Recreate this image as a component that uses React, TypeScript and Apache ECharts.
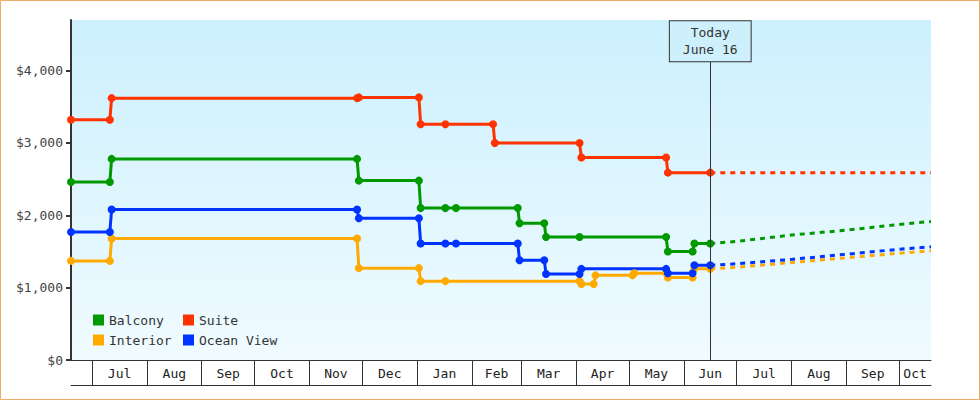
import React, { useEffect, useRef } from 'react';
import * as echarts from 'echarts';

const FONT = '"DejaVu Sans Mono", monospace';

const axisStart = '2022-06-19';
const axisEnd = '2023-10-19';
const today = '2023-06-16';
const todayLabel = 'Today\nJune 16';
const todayMarkerTop = 4130;

const monthStarts = [
  '2022-07-01', '2022-08-01', '2022-09-01', '2022-10-01', '2022-11-01', '2022-12-01',
  '2023-01-01', '2023-02-01', '2023-03-01', '2023-04-01', '2023-05-01', '2023-06-01',
  '2023-07-01', '2023-08-01', '2023-09-01', '2023-10-01',
];
const monthNames = [
  'Jul', 'Aug', 'Sep', 'Oct', 'Nov', 'Dec', 'Jan', 'Feb',
  'Mar', 'Apr', 'May', 'Jun', 'Jul', 'Aug', 'Sep', 'Oct',
];
const yTicks = [0, 1000, 2000, 3000, 4000];

const seriesNames = ['Balcony', 'Suite', 'Interior', 'Ocean View'];
const seriesColors = ['#009900', '#ff3300', '#ffaa00', '#0033ff'];

// observed prices (date, $)
const balcony: [string, number][] = [
  ['2022-06-19', 2460], ['2022-07-11', 2460], ['2022-07-12', 2780], ['2022-11-28', 2780],
  ['2022-11-29', 2480], ['2023-01-02', 2480], ['2023-01-03', 2100], ['2023-01-17', 2100],
  ['2023-01-23', 2100], ['2023-02-27', 2100], ['2023-02-28', 1890], ['2023-03-14', 1890],
  ['2023-03-15', 1700], ['2023-04-03', 1700], ['2023-05-22', 1700], ['2023-05-23', 1500],
  ['2023-06-06', 1500], ['2023-06-07', 1610], ['2023-06-16', 1610],
];
const suite: [string, number][] = [
  ['2022-06-19', 3320], ['2022-07-11', 3320], ['2022-07-12', 3620], ['2022-11-28', 3620],
  ['2022-11-29', 3630], ['2023-01-02', 3630], ['2023-01-03', 3260], ['2023-01-17', 3260],
  ['2023-02-13', 3260], ['2023-02-14', 3000], ['2023-04-03', 3000], ['2023-04-04', 2800],
  ['2023-05-22', 2800], ['2023-05-23', 2590], ['2023-06-16', 2590],
];
const interior: [string, number][] = [
  ['2022-06-19', 1370], ['2022-07-11', 1370], ['2022-07-12', 1680], ['2022-11-28', 1680],
  ['2022-11-29', 1270], ['2023-01-02', 1270], ['2023-01-03', 1090], ['2023-01-17', 1090],
  ['2023-04-03', 1090], ['2023-04-04', 1050], ['2023-04-11', 1050], ['2023-04-12', 1170],
  ['2023-05-03', 1170], ['2023-05-04', 1200], ['2023-05-22', 1200], ['2023-05-23', 1140],
  ['2023-06-06', 1140], ['2023-06-07', 1260], ['2023-06-16', 1260],
];
const oceanView: [string, number][] = [
  ['2022-06-19', 1770], ['2022-07-11', 1770], ['2022-07-12', 2080], ['2022-11-28', 2080],
  ['2022-11-29', 1960], ['2023-01-02', 1960], ['2023-01-03', 1610], ['2023-01-17', 1610],
  ['2023-01-23', 1610], ['2023-02-27', 1610], ['2023-02-28', 1380], ['2023-03-14', 1380],
  ['2023-03-15', 1190], ['2023-04-03', 1190], ['2023-04-04', 1260], ['2023-05-22', 1260],
  ['2023-05-23', 1200], ['2023-06-06', 1200], ['2023-06-07', 1310], ['2023-06-16', 1310],
];

// projected prices after today
const balconyForecast: [string, number][] = [
  ['2023-06-16', 1610], ['2023-07-01', 1640], ['2023-08-01', 1727],
  ['2023-09-01', 1795], ['2023-10-01', 1874], ['2023-10-19', 1915],
];
const suiteForecast: [string, number][] = [
  ['2023-06-16', 2590], ['2023-10-19', 2590],
];
const interiorForecast: [string, number][] = [
  ['2023-06-16', 1260], ['2023-07-01', 1282], ['2023-08-01', 1347],
  ['2023-09-01', 1413], ['2023-10-01', 1476], ['2023-10-19', 1510],
];
const oceanViewForecast: [string, number][] = [
  ['2023-06-16', 1310], ['2023-07-01', 1330], ['2023-08-01', 1391],
  ['2023-09-01', 1462], ['2023-10-01', 1531], ['2023-10-19', 1565],
];

const observed = [balcony, suite, interior, oceanView];
const forecast = [balconyForecast, suiteForecast, interiorForecast, oceanViewForecast];

const ts = (s: string) => +echarts.number.parseDate(s);

const App: React.FC = () => {
  const chartRef = useRef<HTMLDivElement>(null);

  useEffect(() => {
    document.body.style.margin = '0';
    if (!chartRef.current) return;
    const chart = echarts.init(chartRef.current, null, { renderer: 'svg' });

    const starts = monthStarts.map(ts);
    const endTs = ts(axisEnd);
    const mids = starts.map((s, i) => (s + (i + 1 < starts.length ? starts[i + 1] : endTs)) / 2);
    const monthAt = (v: number) => {
      let best = 0;
      mids.forEach((m, i) => {
        if (Math.abs(m - v) < Math.abs(mids[best] - v)) best = i;
      });
      return monthNames[best];
    };
    const toPoints = (arr: [string, number][]) => arr.map(([d, v]) => [ts(d), v]);

    const series: any[] = [];
    observed.forEach((arr, i) => {
      series.push({
        name: seriesNames[i],
        type: 'line',
        data: toPoints(arr),
        symbol: 'circle',
        symbolSize: 8,
        showAllSymbol: true,
        color: seriesColors[i],
        lineStyle: { width: 3, color: seriesColors[i] },
        itemStyle: { color: seriesColors[i] },
        emphasis: { disabled: true },
        ...(i === 0
          ? {
              markLine: {
                silent: true,
                symbol: ['none', 'none'],
                lineStyle: { color: '#333', width: 1, type: 'solid' },
                emphasis: { disabled: true },
                label: {
                  show: true,
                  position: 'end',
                  distance: 0,
                  formatter: todayLabel,
                  fontFamily: FONT,
                  fontSize: 13,
                  color: '#333',
                  lineHeight: 17,
                  padding: [3, 13, 3, 13],
                  borderColor: '#333',
                  borderWidth: 1,
                  backgroundColor: '#cdf0fc',
                },
                data: [[{ coord: [ts(today), 0] }, { coord: [ts(today), todayMarkerTop] }]],
              },
            }
          : {}),
      });
    });
    forecast.forEach((arr, i) => {
      series.push({
        name: seriesNames[i],
        type: 'line',
        data: toPoints(arr),
        showSymbol: false,
        color: seriesColors[i],
        lineStyle: { width: 3, color: seriesColors[i], type: [5, 5] },
        emphasis: { disabled: true },
      });
    });

    const option: any = {
      animation: false,
      backgroundColor: '#ffffff',
      grid: {
        left: 71,
        right: 49,
        top: 20,
        bottom: 40,
        show: true,
        borderWidth: 0,
        backgroundColor: new echarts.graphic.LinearGradient(0, 0, 0, 1, [
          { offset: 0, color: '#ccf0fd' },
          { offset: 1, color: '#f0fbff' },
        ]),
      },
      legend: {
        data: seriesNames,
        left: 93,
        top: 312,
        width: 220,
        padding: 0,
        itemGap: 4,
        itemWidth: 11,
        itemHeight: 11,
        icon: 'rect',
        selectedMode: false,
        textStyle: { fontFamily: FONT, fontSize: 13, color: '#333', width: 70, lineHeight: 16 },
      },
      xAxis: [
        {
          type: 'value',
          min: ts(axisStart),
          max: endTs,
          axisLine: { show: true, lineStyle: { color: '#333', width: 1 } },
          axisTick: { show: true, length: 25, customValues: starts, lineStyle: { color: '#333', width: 1 } },
          axisLabel: {
            customValues: mids,
            formatter: (v: number) => monthAt(v),
            fontFamily: FONT,
            fontSize: 13,
            color: '#222',
            margin: 7,
            hideOverlap: false,
          },
          splitLine: { show: false },
        },
        {
          type: 'value',
          min: ts(axisStart),
          max: endTs,
          position: 'bottom',
          offset: 25,
          axisLine: { show: true, lineStyle: { color: '#333', width: 1 } },
          axisTick: { show: false },
          axisLabel: { show: false },
          splitLine: { show: false },
        },
      ],
      yAxis: {
        type: 'value',
        min: 0,
        max: 4700,
        axisLine: { show: true, lineStyle: { color: '#333', width: 2 } },
        axisTick: { show: true, length: 5, customValues: yTicks, lineStyle: { color: '#333', width: 2 } },
        axisLabel: {
          customValues: yTicks,
          formatter: (v: number) => '$' + String(v).replace(/\B(?=(\d{3})+(?!\d))/g, ','),
          fontFamily: FONT,
          fontSize: 13,
          color: '#444',
          margin: 8,
        },
        splitLine: { show: false },
      },
      graphic: [
        {
          type: 'rect',
          silent: true,
          z: 100,
          shape: { x: 0.5, y: 0.5, width: 979, height: 399 },
          style: { fill: 'none', stroke: '#eeab62', lineWidth: 1 },
        },
      ],
      series,
    };

    chart.setOption(option);

    return () => {
      chart.dispose();
    };
  }, []);

  return <div ref={chartRef} style={{ width: 980, height: 400 }} />;
};

export default App;
